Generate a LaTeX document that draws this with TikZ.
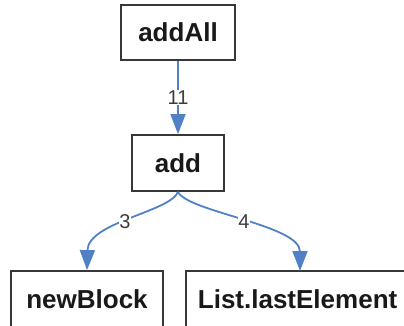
\documentclass[tikz,border=0pt]{standalone}
\usepackage{fontspec}
\setmainfont{Liberation Sans}
\usetikzlibrary{arrows.meta}
\definecolor{edgeblue}{RGB}{79,129,196}
\definecolor{boxgray}{RGB}{55,55,55}
\definecolor{labgray}{RGB}{60,60,60}
\begin{document}
\begin{tikzpicture}[x=1pt,y=-1pt,
  fn/.style={draw=boxgray,line width=1.8pt,fill=white,inner sep=0pt,
    font=\fontsize{26}{30}\selectfont\bfseries,text=black!90},
  conn/.style={draw=edgeblue,line width=1.8pt,-{Triangle[length=20pt,width=15pt]}},
  lab/.style={fill=white,inner sep=0.5pt,font=\fontsize{20}{24}\selectfont,text=labgray}]
\useasboundingbox (0,0) rectangle (404,325);
\clip (0,0) rectangle (404,325);
\node[fn,minimum width=114pt,minimum height=55pt] (addall) at (178,32.5) {addAll};
\node[fn,minimum width=92pt,minimum height=56pt] (add) at (178,163) {add};
\node[fn,minimum width=152pt,minimum height=56pt] (nb) at (87,299) {newBlock};
\node[fn,anchor=west,minimum height=56pt,text width=260pt,inner xsep=12pt] (le) at (185,299) {List.lastElement};
\coordinate (leTop) at (300,271);
\draw[conn] (addall.south) -- node[lab] {11} (add.north);
\draw[conn] (add.south) .. controls (170,212) and (88,222) .. (nb.north);
\draw[conn] (add.south) .. controls (188,212) and (300,225) .. (leTop);
\node[lab] (l3) at (125,222) {3};
\node[lab] (l4) at (244,222) {4};
\end{tikzpicture}
\end{document}
